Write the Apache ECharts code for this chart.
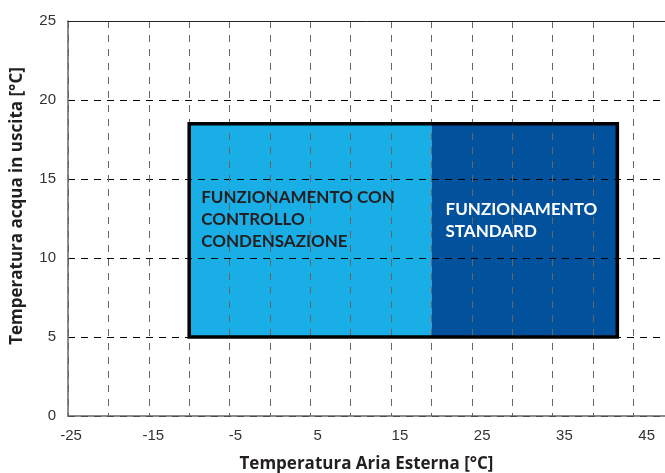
<!DOCTYPE html>
<html>
<head>
<meta charset="utf-8">
<script src="https://cdn.jsdelivr.net/npm/echarts@6/dist/echarts.min.js"></script>
<style>html,body{margin:0;padding:0;background:#fff}#c{width:665px;height:473px}</style>
</head>
<body>
<div id="c"></div>
<script>
// Data
var regionNames = ['FUNZIONAMENTO CON\nCONTROLLO\nCONDENSAZIONE', 'FUNZIONAMENTO\nSTANDARD'];
var regionXStart = [-10, 20];
var regionXEnd = [20, 43];
var regionYMin = [5, 5];
var regionYMax = [18.5, 18.5];
var regionColors = ['#1aaee6', '#01519d'];
var regionTextColors = ['#231f20', '#ffffff'];
var xTickLabels = [-25, -15, -5, 5, 15, 25, 35, 45];
var yTickLabels = [0, 5, 10, 15, 20, 25];
var xTitle = 'Temperatura Aria Esterna [°C]';
var yTitle = 'Temperatura acqua in uscita [°C]';

var regionData = regionXStart.map(function (x0, i) {
  return [x0, regionXEnd[i], regionYMin[i], regionYMax[i], i];
});
var envelopeData = [[regionXStart[0], regionXEnd[regionXEnd.length - 1], regionYMin[0], regionYMax[0]]];

var chart = echarts.init(document.getElementById('c'), null, {renderer: 'canvas'});
var option = {
  animation: false,
  grid: {left: 68, right: 0, top: 21, bottom: 57, containLabel: false, outerBoundsMode: 'none'},
  xAxis: [
    {
      type: 'value', position: 'top', min: -25, max: 48.9, interval: 5, z: 5,
      axisLine: {show: true, onZero: false, lineStyle: {color: '#222', width: 1}},
      axisTick: {show: false}, axisLabel: {show: false},
      splitLine: {show: true, lineStyle: {color: '#666', type: [7, 7], width: 1}}
    },
    {
      type: 'value', position: 'bottom', min: -25.365, max: 47.23, z: 5,
      axisLine: {show: true, onZero: false, lineStyle: {color: '#666', width: 1.5}},
      axisTick: {show: false},
      splitLine: {show: false},
      axisLabel: {show: true, customValues: xTickLabels, margin: 12, color: '#333',
        fontFamily: 'Liberation Sans', fontSize: 15},
      name: xTitle, nameLocation: 'middle', nameGap: 40,
      nameTextStyle: {fontFamily: 'Open Sans', fontWeight: 'bold', fontSize: 17, color: '#231f20'}
    }
  ],
  yAxis: {
    type: 'value', min: 0, max: 25, interval: 5, z: 5,
    axisLine: {show: true, onZero: false, lineStyle: {color: '#666', width: 1.5}},
    axisTick: {show: false},
    axisLabel: {margin: 12, color: '#333', fontFamily: 'Liberation Sans', fontSize: 15,
      customValues: yTickLabels},
    splitLine: {show: true, lineStyle: {color: '#000', type: [7, 6], width: 1}}
  },
  graphic: [{
    type: 'text', x: 17, y: 206, rotation: Math.PI / 2,
    style: {text: yTitle, fontFamily: 'Open Sans', fontWeight: 'bold', fontSize: 17,
      fill: '#231f20', textAlign: 'center', textVerticalAlign: 'middle'}
  }],
  series: [
    {
      type: 'custom', xAxisIndex: 0, yAxisIndex: 0, z: 1, silent: true,
      data: regionData,
      renderItem: function (params, api) {
        var p0 = api.coord([api.value(0), api.value(3)]);
        var p1 = api.coord([api.value(1), api.value(2)]);
        return {type: 'rect', shape: {x: p0[0], y: p0[1], width: p1[0] - p0[0], height: p1[1] - p0[1]},
          style: {fill: regionColors[api.value(4)]}};
      }
    },
    {
      type: 'custom', xAxisIndex: 0, yAxisIndex: 0, z: 10, silent: true,
      data: regionData,
      renderItem: function (params, api) {
        var i = api.value(4);
        var p0 = api.coord([api.value(0), api.value(3)]);
        var offs = i === 0 ? [12, 63] : [14, 75];
        return {type: 'text', x: p0[0] + offs[0], y: p0[1] + offs[1],
          style: {text: regionNames[i], fill: regionTextColors[i], fontFamily: 'Lato',
            fontWeight: 'bold', fontSize: 17, lineHeight: 22, textAlign: 'left', textVerticalAlign: 'top'}};
      }
    },
    {
      type: 'custom', xAxisIndex: 0, yAxisIndex: 0, z: 11, silent: true,
      data: envelopeData,
      renderItem: function (params, api) {
        var p0 = api.coord([api.value(0), api.value(3)]);
        var p1 = api.coord([api.value(1), api.value(2)]);
        return {type: 'rect', shape: {x: p0[0], y: p0[1], width: p1[0] - p0[0], height: p1[1] - p0[1]},
          style: {fill: 'none', stroke: '#000', lineWidth: 3.5}};
      }
    }
  ]
};
chart.setOption(option);
</script>
</body>
</html>
